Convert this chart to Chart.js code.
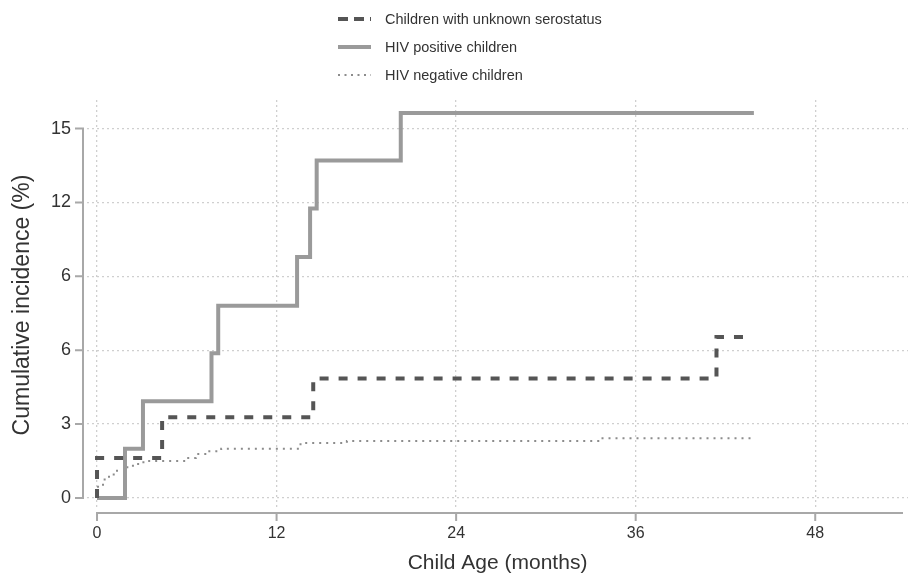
<!DOCTYPE html>
<html lang="en">
<head>
  <meta charset="UTF-8" />
  <title>Cumulative incidence by child age</title>
  <script src="https://cdn.jsdelivr.net/npm/chart.js"></script>
  <style>
    body { margin: 0; background: #fff; font-family: "Liberation Sans", Arial, sans-serif; }
    .wrap { position: relative; width: 908px; height: 579px; }
    .legend { position: absolute; left: 337px; top: 5px; color: #333; font-size: 14.5px; }
    .legend div { height: 28px; display: flex; align-items: center; }
    .legend svg { width: 36px; height: 10px; margin-right: 12px; }
  </style>
</head>
<body>
  <div class="wrap">
    <canvas id="grafico"></canvas>
    <div class="legend" id="leyenda"></div>
  </div>
  <script>
    // step points: month where the new value starts, cumulative incidence (%)
    const unknownMonths = [0, 0, 4.35, 14.45, 41.4, 43.3];
    const unknownValues = [0, 1.62, 3.28, 4.85, 6.54, 6.54];

    const positiveMonths = [0, 1.87, 3.07, 7.65, 8.1, 13.37, 14.24, 14.68, 20.3, 43.9];
    const positiveValues = [0, 2.0, 3.93, 5.88, 7.8, 9.78, 11.75, 13.7, 15.63, 15.63];

    const negativeMonths = [0, 0.4, 0.8, 1.2, 1.8, 2.4, 3.1, 5.9, 6.6, 7.4, 8.3, 13.6, 16.7, 33.5, 43.9];
    const negativeValues = [0.45, 0.75, 0.95, 1.1, 1.25, 1.38, 1.5, 1.62, 1.78, 1.9, 2.0, 2.23, 2.31, 2.42, 2.42];

    const xTickValues = [0, 12, 24, 36, 48];
    const yTickValues = [0, 3, 6, 9, 12, 15];
    const yTickLabels = ['0', '3', '6', '6', '12', '15'];

    const series = [
      { label: 'Children with unknown serostatus', months: unknownMonths, values: unknownValues,
        color: '#555555', width: 4, dash: [9, 10], legendDash: '10 6' },
      { label: 'HIV positive children', months: positiveMonths, values: positiveValues,
        color: '#9a9a9a', width: 4, dash: [], legendDash: '' },
      { label: 'HIV negative children', months: negativeMonths, values: negativeValues,
        color: '#8c8c8c', width: 2, dash: [2, 5], legendDash: '2 4.5' }
    ];

    const font = "'Liberation Sans', Arial, sans-serif";
    const axisColor = '#a8a8a8';

    // Stata style axes: offset from the plot region, only over the tick range
    const ejes = {
      id: 'ejes',
      afterDraw(chart) {
        const { ctx, chartArea, scales } = chart;
        const x = scales.x, y = scales.y;
        ctx.save();
        ctx.strokeStyle = axisColor;
        ctx.lineWidth = 2;
        const ax = chartArea.left - 4;
        const yTop = y.getPixelForValue(yTickValues[yTickValues.length - 1]);
        const yBot = y.getPixelForValue(yTickValues[0]);
        ctx.beginPath();
        ctx.moveTo(ax, yTop);
        ctx.lineTo(ax, yBot);
        yTickValues.forEach(v => {
          const p = y.getPixelForValue(v);
          ctx.moveTo(ax - 8, p);
          ctx.lineTo(ax + 1, p);
        });
        const ay = chartArea.bottom + 3;
        ctx.moveTo(x.getPixelForValue(xTickValues[0]), ay);
        ctx.lineTo(chartArea.right - 5, ay);
        xTickValues.forEach(v => {
          const p = x.getPixelForValue(v);
          ctx.moveTo(p, ay - 1);
          ctx.lineTo(p, ay + 8);
        });
        ctx.stroke();
        ctx.restore();
      }
    };

    new Chart(document.getElementById('grafico'), {
      type: 'line',
      data: {
        datasets: series.map(s => ({
          label: s.label,
          data: s.months.map((m, i) => ({ x: m, y: s.values[i] })),
          borderColor: s.color,
          borderWidth: s.width,
          borderDash: s.dash,
          borderCapStyle: 'butt',
          borderJoinStyle: 'miter',
          stepped: true,
          pointRadius: 0,
          fill: false
        }))
      },
      options: {
        responsive: true,
        maintainAspectRatio: false,
        animation: false,
        layout: { padding: { top: 100, left: 0, right: 0, bottom: 0 } },
        plugins: { legend: { display: false }, tooltip: { enabled: false } },
        scales: {
          x: {
            type: 'linear',
            min: -0.67,
            max: 54.2,
            afterBuildTicks: s => { s.ticks = xTickValues.map(v => ({ value: v })); },
            afterFit: s => { s.height = 69; },
            border: { display: false, dash: [2, 3] },
            grid: { color: '#cfcfcf', lineWidth: 1.3, drawTicks: false },
            ticks: { color: '#333', font: { family: font, size: 16 }, padding: 14, maxRotation: 0 },
            title: { display: true, text: 'Child Age (months)', color: '#333',
                     font: { family: font, size: 21 }, padding: { top: 0, bottom: 3 } }
          },
          y: {
            type: 'linear',
            min: -0.49,
            max: 16.16,
            afterBuildTicks: s => { s.ticks = yTickValues.map(v => ({ value: v })); },
            afterFit: s => { s.width = 87; },
            border: { display: false, dash: [2, 3] },
            grid: { color: '#cfcfcf', lineWidth: 1.3, drawTicks: false },
            ticks: { color: '#333', font: { family: font, size: 18 }, padding: 16,
                     callback: (v, i) => yTickLabels[i] },
            title: { display: true, text: 'Cumulative incidence (%)', color: '#333',
                     font: { family: font, size: 23 }, padding: { top: 9, bottom: 0 } }
          }
        }
      },
      plugins: [ejes]
    });

    document.getElementById('leyenda').innerHTML = series.map(s =>
      `<div><svg viewBox="0 0 36 10"><line x1="1" y1="5" x2="34" y2="5" stroke="${s.color}"
        stroke-width="${s.width}" ${s.legendDash ? `stroke-dasharray="${s.legendDash}"` : ''}/></svg>${s.label}</div>`
    ).join('');
  </script>
</body>
</html>
